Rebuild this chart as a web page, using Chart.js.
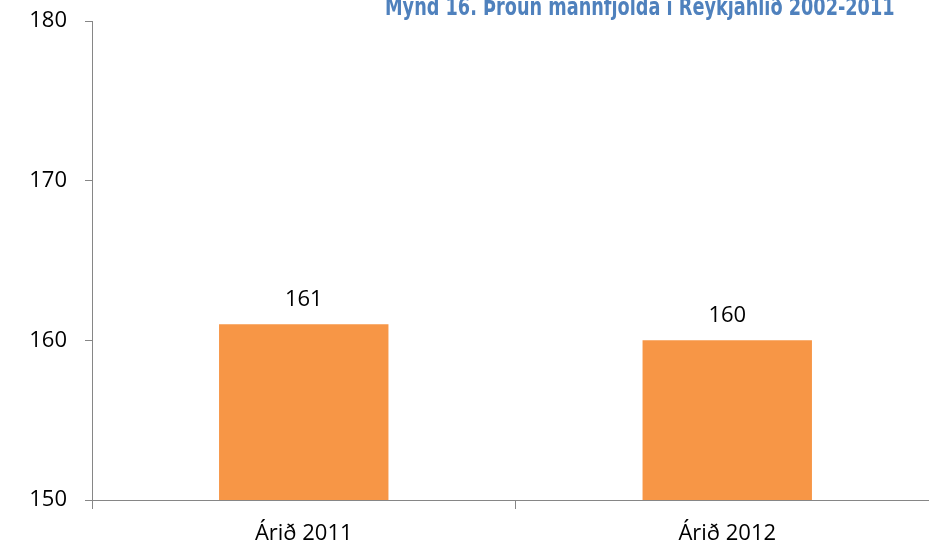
<!DOCTYPE html>
<html>
<head>
<meta charset="utf-8">
<script src="https://cdn.jsdelivr.net/npm/chart.js@4/dist/chart.umd.min.js"></script>
<style>
  html, body { margin: 0; padding: 0; background: #fff; overflow: hidden; }
  #wrap { position: relative; width: 929px; height: 550px; overflow: hidden; }
  #box { position: absolute; left: 0; top: 0; width: 950px; height: 550px; }
</style>
</head>
<body>
<div id="wrap">
  <div id="box"><canvas id="myChart"></canvas></div>
</div>
<script>
// chart data
var titleText = 'Mynd 16. Þróun mannfjölda í Reykjahlíð 2002-2011';
var categories = ['Árið 2011', 'Árið 2012'];
var values = [161, 160];
var yTicks = [150, 160, 170, 180];

var axisGrey = '#868686';
var labelFont = { family: 'Open Sans', size: 22 };

// value labels above the bars + the (cropped) title at the top
var barLabels = {
  id: 'barLabels',
  afterDatasetsDraw: function(chart) {
    var ctx = chart.ctx;
    var meta = chart.getDatasetMeta(0);
    ctx.save();
    ctx.fillStyle = '#000';
    ctx.font = '22px "Open Sans"';
    ctx.textAlign = 'center';
    ctx.textBaseline = 'alphabetic';
    meta.data.forEach(function(bar, i) {
      ctx.fillText(values[i], bar.x, bar.y - 18);
    });
    // title, taller than wide like the original, cut off at the top edge
    ctx.fillStyle = '#4f81bd';
    ctx.font = 'bold 17.7px "DejaVu Sans"';
    ctx.textAlign = 'left';
    ctx.translate(385, 15);
    ctx.scale(1, 1.35);
    ctx.fillText(titleText, 0, 0);
    ctx.restore();
  }
};

const ctx = document.getElementById('myChart');

new Chart(ctx, {
  type: 'bar',
  data: {
    labels: categories,
    datasets: [{
      data: values,
      backgroundColor: '#f79646',
      borderWidth: 0,
      categoryPercentage: 1,
      barPercentage: 0.4
    }]
  },
  options: {
    responsive: true,
    maintainAspectRatio: false,
    animation: false,
    layout: { padding: { top: 21, right: 11, left: 0, bottom: 0 } },
    plugins: {
      legend: { display: false },
      tooltip: { enabled: false }
    },
    scales: {
      y: {
        min: 150,
        max: 180,
        afterBuildTicks: function(scale) {
          scale.ticks = yTicks.map(function(v) { return { value: v }; });
        },
        afterFit: function(scale) {
          scale.width = 92;
          scale.paddingTop = 0;
          scale.paddingBottom = 0;
        },
        border: { color: axisGrey, width: 1 },
        grid: { drawOnChartArea: false, drawTicks: true, tickLength: 7, color: axisGrey },
        ticks: { color: '#000', font: labelFont, padding: 18 }
      },
      x: {
        afterFit: function(scale) {
          scale.height = 50;
          scale.paddingLeft = 0;
          scale.paddingRight = 0;
        },
        border: { color: axisGrey, width: 1 },
        grid: { drawOnChartArea: false, drawTicks: true, tickLength: 9, color: axisGrey, offset: true },
        ticks: { color: '#000', font: labelFont, padding: 12 }
      }
    }
  },
  plugins: [barLabels]
});
</script>
</body>
</html>
